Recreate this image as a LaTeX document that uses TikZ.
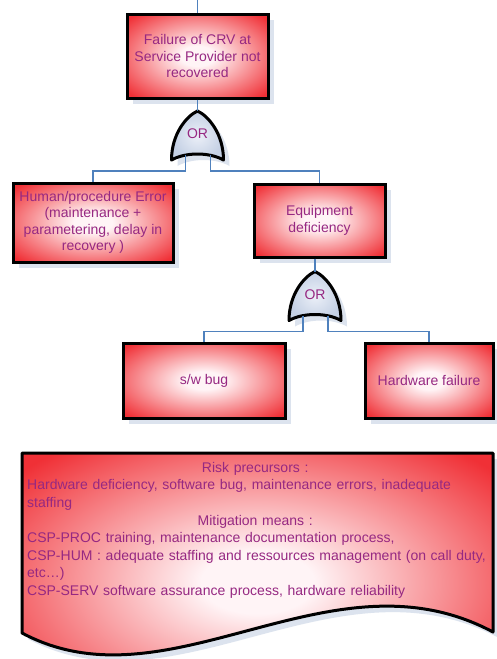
\documentclass[tikz,border=0pt]{standalone}
\usepackage{fontspec}
\setmainfont{Liberation Sans}
\usetikzlibrary{shadows}
\definecolor{boxred}{RGB}{240,48,54}
\definecolor{boxin}{RGB}{255,244,246}
\definecolor{txt}{RGB}{150,40,130}
\definecolor{conn}{RGB}{79,129,189}
\definecolor{shadowc}{RGB}{220,227,238}
\definecolor{gatec}{RGB}{196,208,228}
\definecolor{gatein}{RGB}{236,240,248}
\pgfdeclareradialshading{redbox}{\pgfpoint{0bp}{0bp}}{color(0bp)=(boxin); color(6bp)=(boxin); color(33bp)=(boxred); color(50bp)=(boxred)}
\pgfdeclareradialshading{gateshade}{\pgfpoint{0bp}{0bp}}{color(0bp)=(gatein); color(25bp)=(gatec); color(50bp)=(gatec)}
\tikzset{
  boxshadow/.style={drop shadow={shadow xshift=6pt, shadow yshift=-6pt, fill=shadowc, opacity=1}},
  redbox/.style={draw=black, line width=3pt, shading=redbox, boxshadow, align=center,
    text=txt, inner sep=2pt, font=\fontsize{14pt}{16.5pt}\selectfont},
  conn/.style={draw=conn, line width=1.5pt},
  orgate/.pic={
    \path[draw=black, line width=3pt, line join=round, shading=gateshade, boxshadow]
      (-26,24) .. controls (-26,-2) and (-11,-20) .. (0,-25)
      .. controls (11,-20) and (26,-2) .. (26,24)
      .. controls (12,16) and (-12,16) .. cycle;
    \node[text=txt, font=\fontsize{14pt}{16pt}\selectfont] (-lbl) at (0,-2) {OR};
    \coordinate (-out) at (0,-25);
    \coordinate (-in1) at (-12,19);
    \coordinate (-in2) at (13,19);
  }
}
\begin{document}
\begin{tikzpicture}[x=1pt, y=-1pt]
\useasboundingbox (0,0) rectangle (496,659);
\fill[white] (0,0) rectangle (496,659);

\coordinate (topend) at (197.5,0);
\coordinate (g1c) at (197.5,136);
\coordinate (g2c) at (315,296.5);

% boxes
\node[redbox, minimum width=141pt, minimum height=84pt] (top) at (197.5,56)
  {Failure of CRV at\\Service Provider not\\recovered};
\node[redbox, minimum width=160pt, minimum height=79pt] (human) at (93,222.5)
  {Human/procedure Error\\(maintenance +\\parametering, delay in\\recovery )};
\node[redbox, minimum width=131pt, minimum height=73pt] (equip) at (319.5,220.5)
  {Equipment\\deficiency};
\node[redbox, minimum width=162pt, minimum height=75pt] (swbug) at (204,380.5)
  {s/w bug};
\node[redbox, minimum width=128pt, minimum height=75pt] (hw) at (429,380.5)
  {Hardware failure};

% gates
\pic (g1) at (g1c) {orgate};
\pic (g2) at (g2c) {orgate};

% connectors
\draw[conn] (topend) -- (top.north);
\draw[conn] (top.south) -- (g1-out);
\draw[conn] (g1-in1) -- ++(0,16) -| (human.north);
\draw[conn] (g1-in2) -- ++(0,16) -| (equip.north);
\draw[conn] (g2-out |- equip.south) -- (g2-out);
\draw[conn] (g2-in1) -- ++(0,16) -| (swbug.north);
\draw[conn] (g2-in2) -- ++(0,16) -| (hw.north);

% document shape
\path[draw=black, line width=3pt, line join=round, shading=redbox, boxshadow]
  (22,453) -- (493,453) -- (493,632)
  .. controls (330,545) and (170,712) .. (22,633) -- cycle;
\node[anchor=north west, inner sep=0pt, text width=470pt, align=left, text=txt,
      font=\fontsize{14pt}{17.6pt}\selectfont] (doc) at (27,462)
  {\makebox[456pt][c]{Risk precursors :}\\
   Hardware deficiency, software bug, maintenance errors, inadequate\\
   staffing\\
   \makebox[456pt][c]{Mitigation means :}\\
   CSP-PROC training, maintenance documentation process,\\
   CSP-HUM : adequate staffing and ressources management (on call duty,\\
   etc…)\\
   CSP-SERV software assurance process, hardware reliability};
\end{tikzpicture}
\end{document}
